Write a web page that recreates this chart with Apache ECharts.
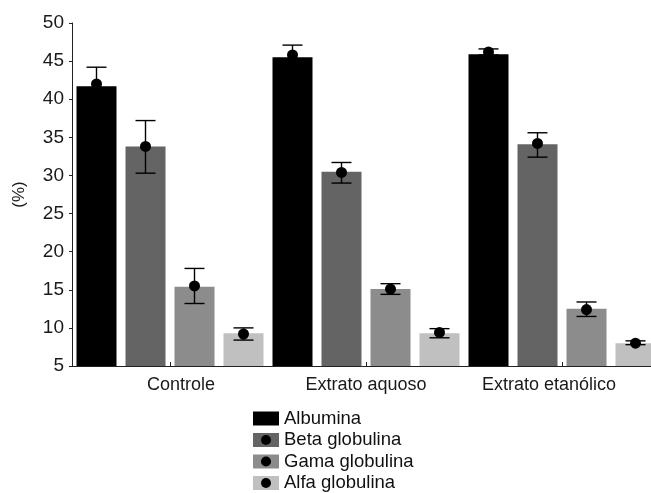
<!DOCTYPE html>
<html>
<head>
<meta charset="utf-8">
<script src="https://cdn.jsdelivr.net/npm/echarts@6/dist/echarts.min.js"></script>
<style>
  html, body { margin: 0; padding: 0; background: #fff; }
  #chart { width: 651px; height: 493px; }
</style>
</head>
<body>
<div id="chart"></div>
<script>
// Groups on the x axis
const categories = ['Controle', 'Extrato aquoso', 'Extrato etanólico'];
const seriesNames = ['Albumina', 'Beta globulina', 'Gama globulina', 'Alfa globulina'];

// Bar heights (%)
const albumina = [41.7, 45.5, 45.9];
const beta = [33.8, 30.5, 34.1];
const gama = [15.4, 15.1, 12.5];
const alfa = [9.3, 9.3, 8.0];

// Point markers (%)
const albuminaDot = [42.0, 45.8, 46.2];
const betaDot = [33.8, 30.4, 34.2];
const gamaDot = [15.5, 15.1, 12.4];
const alfaDot = [9.2, 9.4, 8.0];

// Error bar limits (%)
const albuminaLow = [39.8, 44.5, 45.8];
const albuminaHigh = [44.2, 47.1, 46.6];
const betaLow = [30.3, 29.0, 32.4];
const betaHigh = [37.2, 31.7, 35.6];
const gamaLow = [13.2, 14.4, 11.5];
const gamaHigh = [17.8, 15.8, 13.4];
const alfaLow = [8.4, 8.7, 7.8];
const alfaHigh = [10.0, 9.9, 8.3];

// Y axis ticks
const yMin = 5, yMax = 50, yStep = 5;

const barValues = [albumina, beta, gama, alfa];
const dotValues = [albuminaDot, betaDot, gamaDot, alfaDot];
const lowValues = [albuminaLow, betaLow, gamaLow, alfaLow];
const highValues = [albuminaHigh, betaHigh, gamaHigh, alfaHigh];
const colors = ['#000000', '#646464', '#8c8c8c', '#c0c0c0'];

const FONT = "'Liberation Sans', Arial, sans-serif";
const BAR_W = 40;
const BAR_GAP = 9;

const chart = echarts.init(document.getElementById('chart'), null, { renderer: 'canvas' });

function errorRenderer(slot) {
  return function (params, api) {
    const ci = api.value(0);
    const lo = api.coord([ci, api.value(1)]);
    const hi = api.coord([ci, api.value(2)]);
    const dot = api.coord([ci, api.value(3)]);
    const x = lo[0] + (slot - 1.5) * (BAR_W + BAR_GAP);
    const cap = 10;
    const ls = { stroke: '#000', lineWidth: 1.4 };
    return {
      type: 'group',
      children: [
        { type: 'line', shape: { x1: x, y1: hi[1], x2: x, y2: lo[1] }, style: ls },
        { type: 'line', shape: { x1: x - cap, y1: hi[1], x2: x + cap, y2: hi[1] }, style: ls },
        { type: 'line', shape: { x1: x - cap, y1: lo[1], x2: x + cap, y2: lo[1] }, style: ls },
        { type: 'circle', shape: { cx: x, cy: dot[1], r: 5.5 }, style: { fill: '#000' } }
      ]
    };
  };
}

const series = [];
seriesNames.forEach((name, i) => {
  series.push({
    name: name,
    type: 'bar',
    data: barValues[i],
    barWidth: BAR_W,
    barGap: (BAR_GAP / BAR_W * 100) + '%',
    itemStyle: { color: colors[i] },
    z: 2
  });
});
seriesNames.forEach((name, i) => {
  series.push({
    name: name + ' (média ± dp)',
    type: 'custom',
    renderItem: errorRenderer(i),
    data: categories.map((c, k) => [k, lowValues[i][k], highValues[i][k], dotValues[i][k]]),
    encode: { x: 0, y: [1, 2, 3] },
    z: 5
  });
});

const legendText = { fontFamily: FONT, fontSize: 18.5, color: '#111', lineHeight: 18 };

chart.setOption({
  animation: false,
  backgroundColor: '#fff',
  grid: {
    left: 72, top: 23, width: 588, height: 343,
    containLabel: false, outerBoundsMode: 'none'
  },
  legend: [
    {
      data: seriesNames,
      orient: 'vertical',
      left: 253, top: 409, height: 100,
      padding: 0,
      itemGap: 2.5,
      itemWidth: 26, itemHeight: 14,
      icon: 'rect',
      textStyle: legendText,
      selectedMode: false
    },
    {
      // black marker drawn over the middle of each legend swatch
      data: seriesNames,
      orient: 'vertical',
      left: 261, top: 409, height: 100,
      padding: 0,
      itemGap: 2.5,
      itemWidth: 10, itemHeight: 10,
      icon: 'circle',
      itemStyle: { color: '#000' },
      textStyle: Object.assign({}, legendText, { color: 'rgba(0,0,0,0)' }),
      selectedMode: false
    }
  ],
  xAxis: {
    type: 'category',
    data: categories,
    axisLine: { show: true, lineStyle: { color: '#222', width: 1 } },
    axisTick: { show: true, alignWithLabel: true, inside: true, length: 4, lineStyle: { color: '#222' } },
    axisLabel: {
      interval: 0,
      margin: 10,
      color: '#1a1a1a',
      fontFamily: FONT,
      fontSize: 18,
      formatter: (value, index) => '{l' + index + '|' + value + '}',
      rich: {
        l0: { fontFamily: FONT, fontSize: 18, color: '#1a1a1a', padding: [0, 0, 0, 22] },
        l1: { fontFamily: FONT, fontSize: 18, color: '#1a1a1a' },
        l2: { fontFamily: FONT, fontSize: 18, color: '#1a1a1a', padding: [0, 26, 0, 0] }
      }
    },
    splitLine: { show: false }
  },
  yAxis: {
    type: 'value',
    min: yMin, max: yMax, interval: yStep,
    name: '(%)',
    nameLocation: 'middle',
    nameGap: 44,
    nameRotate: 90,
    nameTextStyle: { fontFamily: FONT, fontSize: 17, color: '#1a1a1a' },
    axisLine: { show: true, lineStyle: { color: '#222', width: 1 } },
    axisTick: { show: true, inside: false, length: 3, lineStyle: { color: '#222' } },
    axisLabel: { margin: 8, color: '#1a1a1a', fontFamily: FONT, fontSize: 19 },
    splitLine: { show: false }
  },
  series: series
});
</script>
</body>
</html>
